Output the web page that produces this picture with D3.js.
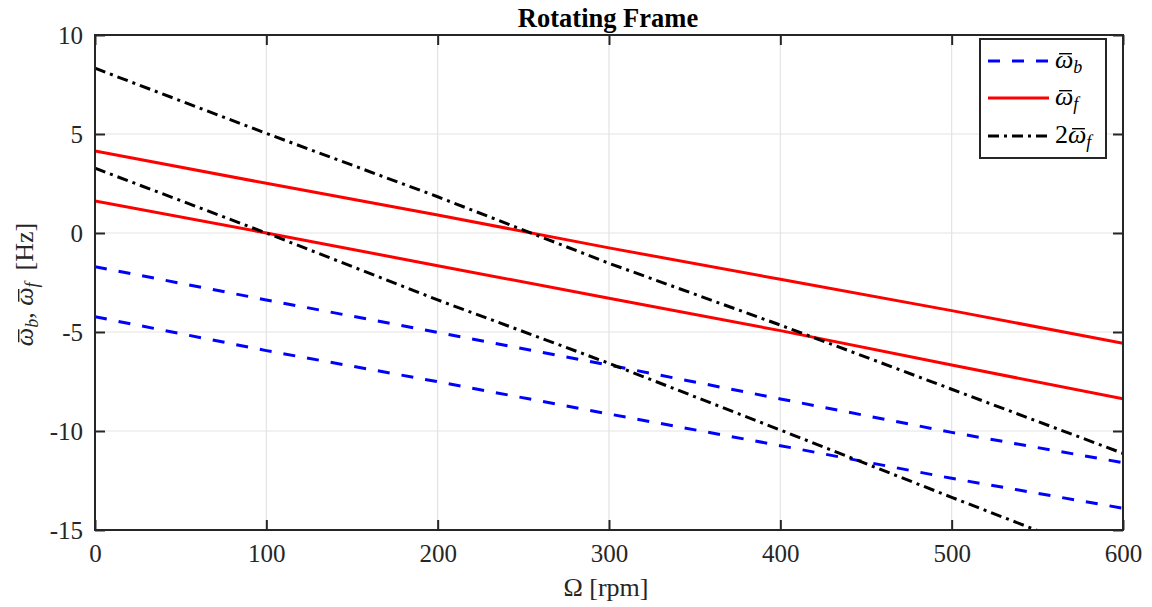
<!DOCTYPE html>
<html>
<head>
<meta charset="utf-8">
<script src="https://cdn.jsdelivr.net/npm/d3@7"></script>
<style>
  html, body { margin: 0; padding: 0; background: #fff; }
  svg { display: block; }
  svg text { font-family: "Liberation Serif", "Times New Roman", serif; fill: #262626; }
</style>
</head>
<body>
<svg id="chart" width="1152" height="607"></svg>
<script>
// Rotor speed samples [rpm]
const rpm = [0, 100, 200, 300, 400, 500, 600];

// Backward whirl frequencies in the rotating frame [Hz]
const backward1 = [-1.70, -3.38, -5.02, -6.67, -8.38, -10.07, -11.60];
const backward2 = [-4.23, -5.94, -7.51, -9.14, -10.74, -12.39, -13.90];

// Forward whirl frequencies in the rotating frame [Hz]
const forward1 = [4.14, 2.51, 0.91, -0.75, -2.34, -3.92, -5.57];
const forward2 = [1.62, 0.00, -1.65, -3.30, -4.93, -6.67, -8.37];

// Twice the forward whirl frequencies [Hz]
const doubleForward1 = [8.32, 5.03, 1.83, -1.53, -4.65, -7.89, -11.13];
const doubleForward2 = [3.27, 0.00, -3.38, -6.58, -9.95, -13.35, -16.70];

const xTicks = [0, 100, 200, 300, 400, 500, 600];
const yTicks = [-15, -10, -5, 0, 5, 10];

const svg = d3.select("#chart");
const plotLeft = 95, plotRight = 1123, plotTop = 35, plotBottom = 530;
const serif = '"Liberation Serif", "Times New Roman", serif';

const x = d3.scaleLinear().domain([0, 600]).range([plotLeft, plotRight]);
const y = d3.scaleLinear().domain([-15, 10]).range([plotBottom, plotTop]);

// Grid
const grid = svg.append("g");
grid.selectAll("line.vx").data(xTicks.slice(1, -1)).join("line")
  .attr("x1", d => x(d)).attr("x2", d => x(d))
  .attr("y1", plotTop).attr("y2", plotBottom)
  .attr("stroke", "#e3e3e3").attr("stroke-width", 1.2);
grid.selectAll("line.hy").data(yTicks.slice(1, -1)).join("line")
  .attr("y1", d => y(d)).attr("y2", d => y(d))
  .attr("x1", plotLeft).attr("x2", plotRight)
  .attr("stroke", "#e3e3e3").attr("stroke-width", 1.2);

// Clip lines to the axes box
svg.append("clipPath").attr("id", "plotClip")
  .append("rect").attr("x", plotLeft).attr("y", plotTop)
  .attr("width", plotRight - plotLeft).attr("height", plotBottom - plotTop);

const line = d3.line().x((d, i) => x(rpm[i])).y(d => y(d));

const series = [
  { values: backward1, color: "#0000ff", dash: "12,12" },
  { values: backward2, color: "#0000ff", dash: "12,12" },
  { values: forward1, color: "#ff0000", dash: null },
  { values: forward2, color: "#ff0000", dash: null },
  { values: doubleForward1, color: "#000000", dash: "11,5,3,5" },
  { values: doubleForward2, color: "#000000", dash: "11,5,3,5" }
];

svg.append("g").attr("clip-path", "url(#plotClip)")
  .selectAll("path").data(series).join("path")
  .attr("d", d => line(d.values))
  .attr("fill", "none")
  .attr("stroke", d => d.color)
  .attr("stroke-width", 3)
  .attr("stroke-dasharray", d => d.dash);

// Axes with inward ticks on all four sides
const axisColor = "#262626";
const tickLen = 10;
const fontSize = 25;
const labelSize = 26;
const plain = d => String(d);

const xBottom = d3.axisBottom(x).tickValues(xTicks).tickFormat(plain).tickSizeInner(-tickLen).tickSizeOuter(0).tickPadding(14);
const xTop = d3.axisTop(x).tickValues(xTicks).tickSizeInner(-tickLen).tickSizeOuter(0).tickFormat("");
const yLeft = d3.axisLeft(y).tickValues(yTicks).tickFormat(plain).tickSizeInner(-tickLen).tickSizeOuter(0).tickPadding(12);
const yRight = d3.axisRight(y).tickValues(yTicks).tickSizeInner(-tickLen).tickSizeOuter(0).tickFormat("");

function styleAxis(g) {
  g.attr("font-family", null).attr("font-size", null);
  g.select(".domain").remove();
  g.selectAll(".tick line").attr("stroke", axisColor).attr("stroke-width", 2);
  g.selectAll(".tick text")
    .style("font-family", serif)
    .style("font-size", fontSize + "px")
    .style("fill", axisColor);
}

svg.append("g").attr("transform", `translate(0,${plotBottom})`).call(xBottom).call(styleAxis);
svg.append("g").attr("transform", `translate(0,${plotTop})`).call(xTop).call(styleAxis);
svg.append("g").attr("transform", `translate(${plotLeft},0)`).call(yLeft).call(styleAxis);
svg.append("g").attr("transform", `translate(${plotRight},0)`).call(yRight).call(styleAxis);

// Axes box
svg.append("rect")
  .attr("x", plotLeft).attr("y", plotTop)
  .attr("width", plotRight - plotLeft).attr("height", plotBottom - plotTop)
  .attr("fill", "none").attr("stroke", axisColor).attr("stroke-width", 2);

// Title
svg.append("text")
  .attr("x", (plotLeft + plotRight) / 2 - 1).attr("y", 27)
  .attr("text-anchor", "middle")
  .style("font-size", "26.5px").style("font-weight", "bold")
  .style("fill", "#000")
  .text("Rotating Frame");

// X label
svg.append("text")
  .attr("x", (plotLeft + plotRight) / 2 - 3).attr("y", 596)
  .attr("text-anchor", "middle")
  .style("font-size", labelSize + "px")
  .text("Ω [rpm]");

// Draws a macron above the character at index i of a text element
function addBar(group, textSel, i, color) {
  const box = textSel.node().getExtentOfChar(i);
  group.append("line")
    .attr("x1", box.x + box.width * 0.22).attr("x2", box.x + box.width * 0.92)
    .attr("y1", box.y + box.height * 0.3).attr("y2", box.y + box.height * 0.3)
    .attr("stroke", color).attr("stroke-width", 1.4);
}

// Y label with barred omegas and subscripts
const yGroup = svg.append("g")
  .attr("transform", `translate(33,${(plotTop + plotBottom) / 2 + 2}) rotate(-90)`);
const yLab = yGroup.append("text")
  .attr("text-anchor", "middle")
  .style("font-size", labelSize + "px");
yLab.append("tspan").style("font-style", "italic").text("ω");
yLab.append("tspan").style("font-style", "italic").style("font-size", "18px").attr("dy", 5).text("b");
yLab.append("tspan").attr("dy", -5).text(", ");
yLab.append("tspan").style("font-style", "italic").text("ω");
yLab.append("tspan").style("font-style", "italic").style("font-size", "18px").attr("dy", 5).text("f");
yLab.append("tspan").attr("dy", -5).attr("dx", 12).text("[Hz]");
addBar(yGroup, yLab, 0, "#262626");
addBar(yGroup, yLab, 4, "#262626");

// Legend
const legend = svg.append("g");
legend.append("rect")
  .attr("x", 980).attr("y", 39).attr("width", 126).attr("height", 119)
  .attr("fill", "#fff").attr("stroke", axisColor).attr("stroke-width", 2);

const legendItems = [
  { color: "#0000ff", dash: "12,12", prefix: "", sub: "b" },
  { color: "#ff0000", dash: null, prefix: "", sub: "f" },
  { color: "#000000", dash: "11,5,3,5", prefix: "2", sub: "f" }
];
const legendY = [61, 98, 136];

legendItems.forEach((item, i) => {
  const ly = legendY[i];
  legend.append("line")
    .attr("x1", 988).attr("x2", 1049).attr("y1", ly).attr("y2", ly)
    .attr("stroke", item.color).attr("stroke-width", 3)
    .attr("stroke-dasharray", item.dash);
  const t = legend.append("text")
    .attr("x", 1055).attr("y", ly + 7)
    .style("font-size", labelSize + "px").style("fill", "#000");
  if (item.prefix) t.append("tspan").text(item.prefix);
  t.append("tspan").style("font-style", "italic").text("ω");
  t.append("tspan").style("font-style", "italic").style("font-size", "18px").attr("dy", 5).text(item.sub);
  addBar(legend, t, item.prefix.length, "#000");
});
</script>
</body>
</html>
